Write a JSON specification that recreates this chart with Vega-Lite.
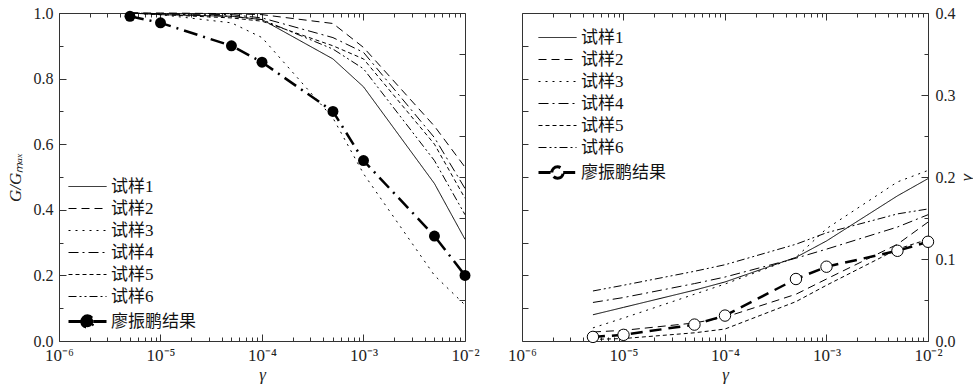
{
  "$schema": "https://vega.github.io/schema/vega-lite/v6.json",
  "background": "white",
  "padding": {"left": 6, "top": 5, "right": 5, "bottom": 5},
  "datasets": {
    "g": [
      {"series": "试样1", "x": 5e-6, "y": 1.0}, {"series": "试样1", "x": 1e-5, "y": 0.995}, {"series": "试样1", "x": 5e-5, "y": 0.99}, {"series": "试样1", "x": 1e-4, "y": 0.98}, {"series": "试样1", "x": 5e-4, "y": 0.86}, {"series": "试样1", "x": 1e-3, "y": 0.775}, {"series": "试样1", "x": 5e-3, "y": 0.48}, {"series": "试样1", "x": 1e-2, "y": 0.31},
      {"series": "试样2", "x": 5e-6, "y": 1.0}, {"series": "试样2", "x": 1e-5, "y": 1.0}, {"series": "试样2", "x": 5e-5, "y": 0.998}, {"series": "试样2", "x": 1e-4, "y": 0.995}, {"series": "试样2", "x": 5e-4, "y": 0.968}, {"series": "试样2", "x": 1e-3, "y": 0.895}, {"series": "试样2", "x": 5e-3, "y": 0.655}, {"series": "试样2", "x": 1e-2, "y": 0.53},
      {"series": "试样3", "x": 5e-6, "y": 1.0}, {"series": "试样3", "x": 1e-5, "y": 0.995}, {"series": "试样3", "x": 5e-5, "y": 0.97}, {"series": "试样3", "x": 1e-4, "y": 0.925}, {"series": "试样3", "x": 5e-4, "y": 0.68}, {"series": "试样3", "x": 1e-3, "y": 0.51}, {"series": "试样3", "x": 5e-3, "y": 0.2}, {"series": "试样3", "x": 1e-2, "y": 0.11},
      {"series": "试样4", "x": 5e-6, "y": 1.0}, {"series": "试样4", "x": 1e-5, "y": 0.998}, {"series": "试样4", "x": 5e-5, "y": 0.995}, {"series": "试样4", "x": 1e-4, "y": 0.985}, {"series": "试样4", "x": 5e-4, "y": 0.925}, {"series": "试样4", "x": 1e-3, "y": 0.88}, {"series": "试样4", "x": 5e-3, "y": 0.62}, {"series": "试样4", "x": 1e-2, "y": 0.465},
      {"series": "试样5", "x": 5e-6, "y": 1.0}, {"series": "试样5", "x": 1e-5, "y": 0.995}, {"series": "试样5", "x": 5e-5, "y": 0.985}, {"series": "试样5", "x": 1e-4, "y": 0.975}, {"series": "试样5", "x": 5e-4, "y": 0.9}, {"series": "试样5", "x": 1e-3, "y": 0.86}, {"series": "试样5", "x": 5e-3, "y": 0.6}, {"series": "试样5", "x": 1e-2, "y": 0.435},
      {"series": "试样6", "x": 5e-6, "y": 1.0}, {"series": "试样6", "x": 1e-5, "y": 0.998}, {"series": "试样6", "x": 5e-5, "y": 0.99}, {"series": "试样6", "x": 1e-4, "y": 0.98}, {"series": "试样6", "x": 5e-4, "y": 0.89}, {"series": "试样6", "x": 1e-3, "y": 0.83}, {"series": "试样6", "x": 5e-3, "y": 0.55}, {"series": "试样6", "x": 1e-2, "y": 0.385},
      {"series": "廖振鹏结果", "x": 5e-6, "y": 0.99}, {"series": "廖振鹏结果", "x": 1e-5, "y": 0.97}, {"series": "廖振鹏结果", "x": 5e-5, "y": 0.9}, {"series": "廖振鹏结果", "x": 1e-4, "y": 0.85}, {"series": "廖振鹏结果", "x": 5e-4, "y": 0.7}, {"series": "廖振鹏结果", "x": 1e-3, "y": 0.55}, {"series": "廖振鹏结果", "x": 5e-3, "y": 0.32}, {"series": "廖振鹏结果", "x": 1e-2, "y": 0.2}
    ],
    "d": [
      {"series": "试样1", "x": 5e-6, "y": 0.032}, {"series": "试样1", "x": 1e-5, "y": 0.041}, {"series": "试样1", "x": 5e-5, "y": 0.062}, {"series": "试样1", "x": 1e-4, "y": 0.072}, {"series": "试样1", "x": 5e-4, "y": 0.102}, {"series": "试样1", "x": 1e-3, "y": 0.122}, {"series": "试样1", "x": 5e-3, "y": 0.177}, {"series": "试样1", "x": 1e-2, "y": 0.198},
      {"series": "试样2", "x": 5e-6, "y": 0.011}, {"series": "试样2", "x": 1e-5, "y": 0.013}, {"series": "试样2", "x": 5e-5, "y": 0.022}, {"series": "试样2", "x": 1e-4, "y": 0.029}, {"series": "试样2", "x": 5e-4, "y": 0.057}, {"series": "试样2", "x": 1e-3, "y": 0.0756}, {"series": "试样2", "x": 5e-3, "y": 0.118}, {"series": "试样2", "x": 1e-2, "y": 0.145},
      {"series": "试样3", "x": 5e-6, "y": 0.016}, {"series": "试样3", "x": 1e-5, "y": 0.028}, {"series": "试样3", "x": 5e-5, "y": 0.057}, {"series": "试样3", "x": 1e-4, "y": 0.0695}, {"series": "试样3", "x": 5e-4, "y": 0.102}, {"series": "试样3", "x": 1e-3, "y": 0.137}, {"series": "试样3", "x": 5e-3, "y": 0.194}, {"series": "试样3", "x": 1e-2, "y": 0.208},
      {"series": "试样4", "x": 5e-6, "y": 0.047}, {"series": "试样4", "x": 1e-5, "y": 0.053}, {"series": "试样4", "x": 5e-5, "y": 0.07}, {"series": "试样4", "x": 1e-4, "y": 0.078}, {"series": "试样4", "x": 5e-4, "y": 0.101}, {"series": "试样4", "x": 1e-3, "y": 0.112}, {"series": "试样4", "x": 5e-3, "y": 0.139}, {"series": "试样4", "x": 1e-2, "y": 0.154},
      {"series": "试样5", "x": 5e-6, "y": 0.002}, {"series": "试样5", "x": 1e-5, "y": 0.003}, {"series": "试样5", "x": 5e-5, "y": 0.01}, {"series": "试样5", "x": 1e-4, "y": 0.0146}, {"series": "试样5", "x": 5e-4, "y": 0.048}, {"series": "试样5", "x": 1e-3, "y": 0.068}, {"series": "试样5", "x": 5e-3, "y": 0.112}, {"series": "试样5", "x": 1e-2, "y": 0.124},
      {"series": "试样6", "x": 5e-6, "y": 0.061}, {"series": "试样6", "x": 1e-5, "y": 0.068}, {"series": "试样6", "x": 5e-5, "y": 0.085}, {"series": "试样6", "x": 1e-4, "y": 0.093}, {"series": "试样6", "x": 5e-4, "y": 0.118}, {"series": "试样6", "x": 1e-3, "y": 0.132}, {"series": "试样6", "x": 5e-3, "y": 0.155}, {"series": "试样6", "x": 1e-2, "y": 0.161},
      {"series": "廖振鹏结果", "x": 5e-6, "y": 0.005}, {"series": "廖振鹏结果", "x": 1e-5, "y": 0.0075}, {"series": "廖振鹏结果", "x": 5e-5, "y": 0.02}, {"series": "廖振鹏结果", "x": 1e-4, "y": 0.031}, {"series": "廖振鹏结果", "x": 5e-4, "y": 0.0756}, {"series": "廖振鹏结果", "x": 1e-3, "y": 0.0906}, {"series": "廖振鹏结果", "x": 5e-3, "y": 0.11}, {"series": "廖振鹏结果", "x": 1e-2, "y": 0.121}
    ]
  },
  "hconcat": [
    {
      "width": 406,
      "height": 328,
      "data": {"name": "g"},
      "layer": [
        {
          "transform": [{"filter": "datum.series !== '廖振鹏结果'"}],
          "mark": {"type": "line", "color": "black", "strokeWidth": 1},
          "encoding": {
            "x": {"field": "x", "type": "quantitative", "scale": {"type": "log", "domain": [1e-6, 1e-2], "nice": false},
              "axis": {"orient": "bottom", "values": [1e-6,2e-6,3e-6,4e-6,5e-6,6e-6,7e-6,8e-6,9e-6,1e-5,2e-5,3e-5,4e-5,5e-5,6e-5,7e-5,8e-5,9e-5,1e-4,2e-4,3e-4,4e-4,5e-4,6e-4,7e-4,8e-4,9e-4,1e-3,2e-3,3e-3,4e-3,5e-3,6e-3,7e-3,8e-3,9e-3,1e-2],
                "labelExpr": "abs(log(datum.value)/LN10 - round(log(datum.value)/LN10)) < 0.01 ? '10' + ['⁻⁶','⁻⁵','⁻⁴','⁻³','⁻²'][round(log(datum.value)/LN10)+6] : ''",
                "tickSize": {"condition": {"test": "abs(log(datum.value)/LN10 - round(log(datum.value)/LN10)) < 0.01", "value": -7}, "value": -4},
                "labelPadding": 13, "labelFlush": false, "labelOverlap": false, "labelFontSize": 17,
                "title": "γ", "titleFontStyle": "italic", "titlePadding": 0}},
            "y": {"field": "y", "type": "quantitative", "scale": {"domain": [0, 1], "nice": false, "zero": false},
              "axis": {"orient": "left", "values": [0,0.1,0.2,0.3,0.4,0.5,0.6,0.7,0.8,0.9,1.0],
                "labelExpr": "abs(datum.value*5 - round(datum.value*5)) < 0.001 ? format(datum.value, '.1f') : ''",
                "tickSize": {"condition": {"test": "abs(datum.value*5 - round(datum.value*5)) < 0.001", "value": -7}, "value": -4},
                "labelPadding": 13, "labelOverlap": false,
                "title": "G/Gₘₐₓ", "titleFontStyle": "italic", "titlePadding": 9}},
            "strokeDash": {"field": "series", "type": "nominal",
              "scale": {"domain": ["试样1","试样2","试样3","试样4","试样5","试样6","廖振鹏结果"],
                "range": [[1,0],[8,5],[2,5],[10,4,2,4],[4,3],[8,3,2,3,2,3],[14,6,2,6]]},
              "legend": {"orient": "none", "legendX": 20, "legendY": 165, "title": null, "padding": 0,
                "symbolType": "M-2,0H2", "symbolSize": 361, "symbolStrokeWidth": 1, "symbolStrokeColor": "black",
                "labelFont": "Liberation Serif, Noto Sans CJK SC", "labelFontSize": 17, "labelColor": "#111",
                "labelOffset": 15, "rowPadding": 4,
                "encode": {"symbols": {"update": {
                  "shape": {"signal": "datum.value === '廖振鹏结果' ? 'M-2,0H-0.6M0.6,0H2M-0.6,0C-0.6,-0.331,-0.331,-0.6,0,-0.6C0.331,-0.6,0.6,-0.331,0.6,0C0.6,0.331,0.331,0.6,0,0.6C-0.331,0.6,-0.6,0.331,-0.6,0Z' : 'M-2,0H2'"},
                  "strokeWidth": {"signal": "datum.value === '廖振鹏结果' ? 3 : 1"},
                  "strokeDash": {"signal": "datum.value === '试样2' ? [8,5] : datum.value === '试样3' ? [2,5] : datum.value === '试样4' ? [10,4,2,4] : datum.value === '试样5' ? [4,3] : datum.value === '试样6' ? [8,3,2,3,2,3] : [1,0]"},
                  "fill": {"value": "black"},
                  "stroke": {"value": "black"},
                  "opacity": {"value": 1}
                }}}}}
          }
        },
        {
          "transform": [{"filter": "datum.series === '廖振鹏结果'"}],
          "mark": {"type": "line", "color": "black", "strokeWidth": 2.5},
          "encoding": {
            "x": {"field": "x", "type": "quantitative",
              "axis": {"orient": "top", "values": [1e-6,2e-6,3e-6,4e-6,5e-6,6e-6,7e-6,8e-6,9e-6,1e-5,2e-5,3e-5,4e-5,5e-5,6e-5,7e-5,8e-5,9e-5,1e-4,2e-4,3e-4,4e-4,5e-4,6e-4,7e-4,8e-4,9e-4,1e-3,2e-3,3e-3,4e-3,5e-3,6e-3,7e-3,8e-3,9e-3,1e-2],
                "labels": false, "title": null,
                "tickSize": {"condition": {"test": "abs(log(datum.value)/LN10 - round(log(datum.value)/LN10)) < 0.01", "value": -7}, "value": -4}}},
            "y": {"field": "y", "type": "quantitative",
              "axis": {"orient": "right", "values": [0.125,0.25,0.375,0.5,0.625,0.75,0.875], "labels": false, "title": null, "tickSize": -6}},
            "strokeDash": {"field": "series", "type": "nominal"}
          }
        },
        {
          "transform": [{"filter": "datum.series === '廖振鹏结果'"}],
          "mark": {"type": "point", "shape": "circle", "filled": true, "color": "black", "size": 120, "opacity": 1},
          "encoding": {
            "x": {"field": "x", "type": "quantitative", "axis": null},
            "y": {"field": "y", "type": "quantitative", "axis": null}
          }
        }
      ],
      "resolve": {"axis": {"x": "independent", "y": "independent"}}
    },
    {
      "width": 406,
      "height": 328,
      "data": {"name": "d"},
      "layer": [
        {
          "transform": [{"filter": "datum.series !== '廖振鹏结果'"}],
          "mark": {"type": "line", "color": "black", "strokeWidth": 1},
          "encoding": {
            "x": {"field": "x", "type": "quantitative", "scale": {"type": "log", "domain": [1e-6, 1e-2], "nice": false},
              "axis": {"orient": "bottom", "values": [1e-6,2e-6,3e-6,4e-6,5e-6,6e-6,7e-6,8e-6,9e-6,1e-5,2e-5,3e-5,4e-5,5e-5,6e-5,7e-5,8e-5,9e-5,1e-4,2e-4,3e-4,4e-4,5e-4,6e-4,7e-4,8e-4,9e-4,1e-3,2e-3,3e-3,4e-3,5e-3,6e-3,7e-3,8e-3,9e-3,1e-2],
                "labelExpr": "abs(log(datum.value)/LN10 - round(log(datum.value)/LN10)) < 0.01 ? '10' + ['⁻⁶','⁻⁵','⁻⁴','⁻³','⁻²'][round(log(datum.value)/LN10)+6] : ''",
                "tickSize": {"condition": {"test": "abs(log(datum.value)/LN10 - round(log(datum.value)/LN10)) < 0.01", "value": -7}, "value": -4},
                "labelPadding": 13, "labelFlush": false, "labelOverlap": false, "labelFontSize": 17,
                "title": "γ", "titleFontStyle": "italic", "titlePadding": 0}},
            "y": {"field": "y", "type": "quantitative", "scale": {"domain": [0, 0.4], "nice": false, "zero": false},
              "axis": {"orient": "left", "values": [0.04,0.08,0.12,0.16,0.2,0.24,0.28,0.32,0.36], "labels": false, "title": null, "tickSize": -6}},
            "strokeDash": {"field": "series", "type": "nominal",
              "scale": {"domain": ["试样1","试样2","试样3","试样4","试样5","试样6","廖振鹏结果"],
                "range": [[1,0],[8,5],[2,5],[10,4,2,4],[4,3],[8,3,2,3,2,3],[12,7]]},
              "legend": {"orient": "none", "legendX": 27, "legendY": 16, "title": null, "padding": 0,
                "symbolType": "M-2,0H2", "symbolSize": 361, "symbolStrokeWidth": 1, "symbolStrokeColor": "black",
                "labelFont": "Liberation Serif, Noto Sans CJK SC", "labelFontSize": 17, "labelColor": "#111",
                "labelOffset": 15, "rowPadding": 4,
                "encode": {"symbols": {"update": {
                  "shape": {"signal": "datum.value === '廖振鹏结果' ? 'M-2,0H-0.6M0.6,0H2M-0.6,0C-0.6,-0.331,-0.331,-0.6,0,-0.6C0.331,-0.6,0.6,-0.331,0.6,0C0.6,0.331,0.331,0.6,0,0.6C-0.331,0.6,-0.6,0.331,-0.6,0Z' : 'M-2,0H2'"},
                  "strokeWidth": {"signal": "datum.value === '廖振鹏结果' ? 3 : 1"},
                  "strokeDash": {"signal": "datum.value === '试样2' ? [5,4] : datum.value === '试样3' ? [2,5] : datum.value === '试样4' ? [8,4,2,4] : datum.value === '试样5' ? [4,3] : datum.value === '试样6' ? [6,3,2,3,2,3] : [1,0]"},
                  "fill": {"value": "white"},
                  "stroke": {"value": "black"},
                  "opacity": {"value": 1}
                }}}}}
          }
        },
        {
          "transform": [{"filter": "datum.series === '廖振鹏结果'"}],
          "mark": {"type": "line", "color": "black", "strokeWidth": 2.5},
          "encoding": {
            "x": {"field": "x", "type": "quantitative",
              "axis": {"orient": "top", "values": [1e-6,2e-6,3e-6,4e-6,5e-6,6e-6,7e-6,8e-6,9e-6,1e-5,2e-5,3e-5,4e-5,5e-5,6e-5,7e-5,8e-5,9e-5,1e-4,2e-4,3e-4,4e-4,5e-4,6e-4,7e-4,8e-4,9e-4,1e-3,2e-3,3e-3,4e-3,5e-3,6e-3,7e-3,8e-3,9e-3,1e-2],
                "labels": false, "title": null,
                "tickSize": {"condition": {"test": "abs(log(datum.value)/LN10 - round(log(datum.value)/LN10)) < 0.01", "value": -7}, "value": -4}}},
            "y": {"field": "y", "type": "quantitative",
              "axis": {"orient": "right", "values": [0,0.05,0.1,0.15,0.2,0.25,0.3,0.35,0.4],
                "labelExpr": "abs(datum.value*10 - round(datum.value*10)) < 0.001 ? format(datum.value, '.1f') : ''",
                "tickSize": {"condition": {"test": "abs(datum.value*10 - round(datum.value*10)) < 0.001", "value": -7}, "value": -4},
                "labelPadding": 14, "labelOverlap": false,
                "title": "λ", "titleFontStyle": "italic", "titlePadding": 4}},
            "strokeDash": {"field": "series", "type": "nominal"}
          }
        },
        {
          "transform": [{"filter": "datum.series === '廖振鹏结果'"}],
          "mark": {"type": "point", "shape": "circle", "filled": true, "fill": "white", "stroke": "black", "strokeWidth": 1, "size": 130, "opacity": 1},
          "encoding": {
            "x": {"field": "x", "type": "quantitative", "axis": null},
            "y": {"field": "y", "type": "quantitative", "axis": null}
          }
        }
      ],
      "resolve": {"axis": {"x": "independent", "y": "independent"}}
    }
  ],
  "spacing": 57,
  "bounds": "flush",
  "resolve": {"scale": {"strokeDash": "independent"}, "legend": {"strokeDash": "independent"}},
  "config": {
    "view": {"stroke": null},
    "axis": {
      "grid": false,
      "domainColor": "#333",
      "tickColor": "#333",
      "tickWidth": 1,
      "labelFont": "Liberation Serif",
      "labelFontSize": 16,
      "labelColor": "#222",
      "titleFont": "Liberation Serif",
      "titleFontSize": 17,
      "titleFontWeight": "normal",
      "titleColor": "#222"
    }
  }
}
